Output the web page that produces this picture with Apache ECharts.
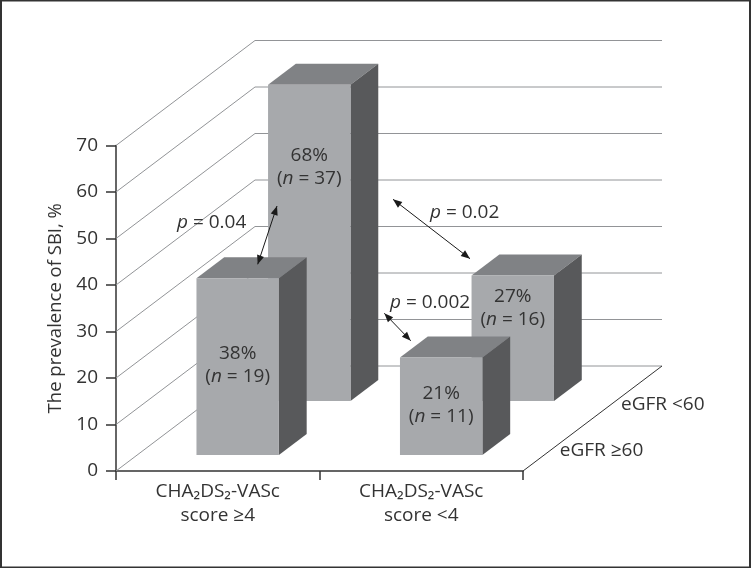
<!DOCTYPE html>
<html>
<head>
<meta charset="utf-8">
<style>
    html, body { margin: 0; padding: 0; background: #fff; }
    #chart { width: 751px; height: 568px; }
</style>
<script src="https://cdn.jsdelivr.net/npm/echarts@6/dist/echarts.min.js"></script>
</head>
<body>
<div id="chart"></div>
<script>
    var categories = ['CHA₂DS₂-VASc\nscore ≥4', 'CHA₂DS₂-VASc\nscore <4'];
    var rowNames = ['eGFR ≥60', 'eGFR <60'];
    var frontValues = [38, 21];
    var frontCounts = [19, 11];
    var backValues = [68, 27];
    var backCounts = [37, 16];
    var gridTicks = [0, 10, 20, 30, 40, 50, 60, 70];

    //depth of the box in px, and where each row sits in it (0 front, 1 back)
    var DEPTH_X = 139, DEPTH_Y = 105;
    var ROW_DEPTH = [0.152, 0.667];
    var ROW_LABEL_DEPTH = [0.2, 0.64];
    var BAR_DEPTH = 0.2, BAR_WIDTH = 0.405, BAR_SHIFT = -1.2;
    var LABEL_AT = [0.51, 0.74];
    var FONT = '"Open Sans", "Noto Sans", sans-serif';
    var FONT_SIZE = 19;
    var TEXT = '#333333';

    //back row first, so the front row paints over it
    var barData = [];
    backValues.forEach(function (v, i) { barData.push([i, v, 1, backCounts[i]]); });
    frontValues.forEach(function (v, i) { barData.push([i, v, 0, frontCounts[i]]); });

    function renderWall(params, api) {
        var tick = api.value(0);
        var p = api.coord([0, tick]);
        var cs = params.coordSys;
        var children = [{
            type: 'polyline',
            shape: { points: [[cs.x, p[1]], [cs.x + DEPTH_X, p[1] - DEPTH_Y], [cs.x + cs.width + DEPTH_X, p[1] - DEPTH_Y]] },
            style: { fill: 'none', stroke: '#929497', lineWidth: 1 }
        }];
        if (tick === 0) {
            children.push({
                type: 'line',
                shape: { x1: cs.x + cs.width, y1: p[1], x2: cs.x + cs.width + DEPTH_X, y2: p[1] - DEPTH_Y },
                style: { stroke: '#333333', lineWidth: 1 }
            });
        }
        return { type: 'group', children: children };
    }

    function renderBar(params, api) {
        var base = api.coord([api.value(0), 0]);
        var top = api.coord([api.value(0), api.value(1)]);
        var w = api.size([1, 0])[0] * BAR_WIDTH;
        var row = api.value(2);
        var d = ROW_DEPTH[row];
        var x0 = base[0] + DEPTH_X * d - w / 2 + BAR_SHIFT;
        var x1 = x0 + w;
        var yb = base[1] - DEPTH_Y * d;
        var yt = top[1] - DEPTH_Y * d;
        var sx = DEPTH_X * BAR_DEPTH, sy = DEPTH_Y * BAR_DEPTH;
        return {
            type: 'group',
            children: [{
                type: 'polygon',
                shape: { points: [[x0, yt], [x0 + sx, yt - sy], [x1 + sx, yt - sy], [x1, yt]] },
                style: { fill: '#808285' }
            }, {
                type: 'polygon',
                shape: { points: [[x1, yt], [x1 + sx, yt - sy], [x1 + sx, yb - sy], [x1, yb]] },
                style: { fill: '#58595b' }
            }, {
                type: 'rect',
                shape: { x: x0, y: yt, width: w, height: yb - yt },
                style: { fill: '#a7a9ac' }
            }, {
                type: 'text',
                x: x0 + w / 2,
                y: yb - (yb - yt) * LABEL_AT[row],
                style: {
                    text: api.value(1) + '%\n({i|n} = ' + api.value(3) + ')',
                    rich: { i: { fontStyle: 'italic', fontFamily: FONT, fontSize: FONT_SIZE, fill: TEXT } },
                    fontSize: FONT_SIZE,
                    fontFamily: FONT,
                    lineHeight: 23,
                    fill: TEXT,
                    align: 'center',
                    verticalAlign: 'middle'
                }
            }]
        };
    }

    function renderRowName(params, api) {
        var cs = params.coordSys;
        var i = api.value(0);
        return {
            type: 'text',
            x: cs.x + cs.width + DEPTH_X * ROW_LABEL_DEPTH[i] + 9,
            y: cs.y + cs.height - DEPTH_Y * ROW_LABEL_DEPTH[i] + 1,
            style: {
                text: rowNames[i],
                fontSize: FONT_SIZE,
                fontFamily: FONT,
                fill: TEXT,
                align: 'left',
                verticalAlign: 'middle'
            }
        };
    }

    function arrow(x1, y1, x2, y2) {
        var a = Math.atan2(y2 - y1, x2 - x1);
        function head(x, y, ang) {
            var l = 9, hw = 3.6;
            var bx = x - l * Math.cos(ang), by = y - l * Math.sin(ang);
            return {
                type: 'polygon', z: 20,
                shape: { points: [[x, y],
                    [bx - hw * Math.sin(ang), by + hw * Math.cos(ang)],
                    [bx + hw * Math.sin(ang), by - hw * Math.cos(ang)]] },
                style: { fill: '#1a1a1a' }
            };
        }
        return [{
            type: 'line', z: 20,
            shape: { x1: x1, y1: y1, x2: x2, y2: y2 },
            style: { stroke: '#1a1a1a', lineWidth: 1 }
        }, head(x1, y1, a + Math.PI), head(x2, y2, a)];
    }

    function pLabel(x, y, value) {
        return {
            type: 'text', z: 20, x: x, y: y,
            style: {
                text: '{i|p} = ' + value,
                rich: { i: { fontStyle: 'italic', fontFamily: FONT, fontSize: FONT_SIZE, fill: TEXT } },
                fontSize: FONT_SIZE,
                fontFamily: FONT,
                fill: TEXT,
                align: 'left',
                verticalAlign: 'middle'
            }
        };
    }

    var chart = echarts.init(document.getElementById('chart'), null, { renderer: 'canvas' });
    chart.setOption({
        animation: false,
        backgroundColor: '#ffffff',
        grid: { left: 116, right: 228, top: 145.5, bottom: 97 },
        xAxis: {
            type: 'category',
            data: categories,
            axisLine: { show: true, lineStyle: { color: '#333333', width: 1.5 } },
            axisTick: { show: true, length: 9, lineStyle: { color: '#333333', width: 1.5 } },
            axisLabel: { color: TEXT, fontSize: FONT_SIZE, fontFamily: FONT, lineHeight: 24, margin: 9 }
        },
        yAxis: {
            type: 'value',
            min: 0,
            max: 70,
            interval: 10,
            name: 'The prevalence of SBI, %',
            nameLocation: 'middle',
            nameGap: 50,
            nameTextStyle: { color: TEXT, fontSize: 18.5, fontFamily: FONT },
            splitLine: { show: false },
            axisLine: { show: true, lineStyle: { color: '#333333', width: 1.5 } },
            axisTick: { show: true, length: 10, lineStyle: { color: '#333333', width: 1.5 } },
            axisLabel: { color: TEXT, fontSize: FONT_SIZE, fontFamily: FONT, margin: 18 }
        },
        series: [{
            type: 'custom',
            silent: true,
            clip: false,
            z: 1,
            renderItem: renderWall,
            data: gridTicks.map(function (t) { return [t]; }),
            encode: { y: 0 }
        }, {
            type: 'custom',
            silent: true,
            clip: false,
            z: 2,
            renderItem: renderBar,
            data: barData,
            encode: { x: 0, y: 1 }
        }, {
            type: 'custom',
            silent: true,
            clip: false,
            z: 3,
            renderItem: renderRowName,
            data: rowNames.map(function (n, i) { return [i]; }),
            encode: { x: 0 }
        }],
        graphic: [{
            type: 'rect', z: 30, silent: true,
            shape: { x: 1, y: 0.5, width: 749, height: 567 },
            style: { fill: 'none', stroke: '#333333', lineWidth: 2 }
        }].concat(
            arrow(277, 206, 257.7, 264.3),
            arrow(393, 199.3, 470, 258.7),
            arrow(384.3, 313.3, 410.7, 340.7),
            [pLabel(177, 223, '0.04'), pLabel(430, 213, '0.02'), pLabel(390, 303, '0.002')]
        )
    });
</script>
</body>
</html>
